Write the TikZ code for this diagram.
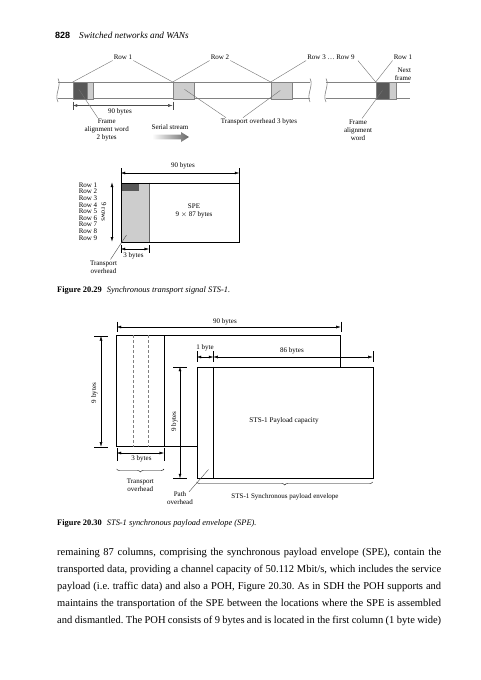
\documentclass[tikz,border=0pt]{standalone}
\usepackage{fontspec}
\setmainfont{Liberation Serif}
\newfontfamily\hdrsans{Liberation Sans}
\usetikzlibrary{arrows.meta,decorations.pathreplacing}
\definecolor{darkblk}{RGB}{88,88,88}
\definecolor{lightblk}{RGB}{205,205,205}
\definecolor{stripcol}{RGB}{130,130,130}
\frenchspacing
\begin{document}
\begin{tikzpicture}[x=1pt,y=-1pt,
  lbl/.style={font=\fontsize{7}{8}\selectfont, inner sep=0pt, align=center},
  ptr/.style={draw=black!55, line width=0.4pt},
  strip/.style={draw=stripcol, line width=0.6pt},
  blk/.style={draw=stripcol, line width=0.3pt, inner sep=0pt, anchor=north west, minimum height=16.5pt},
  dim/.style={{Latex[length=4.5pt,width=2.8pt]}-{Latex[length=4.5pt,width=2.8pt]}, line width=0.4pt},
  tickln/.style={line width=0.4pt},
  brc/.style={decorate, decoration={brace, mirror, amplitude=3pt}, line width=0.4pt},
  body/.style={font=\fontsize{10.5}{12}\selectfont, inner sep=0pt, anchor=base west},
  capt/.style={font=\fontsize{8.4}{10}\selectfont, inner sep=0pt, anchor=west}
]
\useasboundingbox (0,0) rectangle (481,680);
\fill[white] (0,0) rectangle (481,680);

% ---------- header ----------
\node[inner sep=0pt, anchor=west, font=\hdrsans\bfseries\fontsize{9}{10}\selectfont] (pgno) at (55,35) {828};
\node[inner sep=0pt, anchor=west, font=\itshape\fontsize{9.2}{11}\selectfont] (runhead) at (79,35) {Switched networks and WANs};

% ---------- Figure 20.29 top: serial stream ----------
\draw[strip] (58,82) -- (310,82);
\draw[strip] (58,98.5) -- (310,98.5);
\draw[strip] (58,78.5) .. controls (62,86) and (54,94) .. (58,102);
\draw[strip] (310,78.5) .. controls (314,86) and (306,94) .. (310,102);
\draw[strip] (326,82) -- (410,82);
\draw[strip] (326,98.5) -- (410,98.5);
\draw[strip] (326,78.5) .. controls (330,86) and (322,94) .. (326,102);

\node[blk, fill=darkblk, minimum width=14pt] (d1) at (72.7,82) {};
\node[blk, fill=lightblk, minimum width=5.8pt] (l1) at (86.7,82) {};
\node[blk, fill=lightblk, minimum width=21.3pt] (l2) at (172.7,82) {};
\node[blk, fill=lightblk, minimum width=21pt] (l3) at (270.7,82) {};
\node[blk, fill=darkblk, minimum width=13.3pt] (d4) at (375.7,82) {};
\node[blk, fill=lightblk, minimum width=6.7pt] (l4) at (389,82) {};

\node[lbl] (r1) at (123,57) {Row 1};
\node[lbl] (r2) at (220,57) {Row 2};
\node[lbl] (r3) at (331,57) {Row 3 \dots\ Row 9};
\node[lbl] (r4) at (403,57) {Row 1};
\node[lbl, align=right] (nf) at (403,74) {Next\\frame};

\draw[ptr] ([xshift=-1pt,yshift=-1pt]r1.south west) -- (d1.north west);
\draw[ptr] ([xshift=1pt,yshift=-1pt]r1.south east) -- (l2.north west);
\draw[ptr] ([xshift=-1pt,yshift=-1pt]r2.south west) -- (l2.north west);
\draw[ptr] ([xshift=1pt,yshift=-1pt]r2.south east) -- (l3.north west);
\draw[ptr] ([xshift=-1pt,yshift=-1pt]r3.south west) -- (l3.north west);
\draw[ptr] ([xshift=3pt,yshift=-1pt]r3.south east) -- (d4.north west);
\draw[ptr] ([xshift=-1pt,yshift=-1pt]r4.south west) -- (d4.north west);

% 90 bytes dimension
\coordinate (t90a) at (72.7,105.5);
\coordinate (t90b) at (172.7,105.5);
\draw[tickln, black!70] (72.7,101.5) -- (72.7,109.5);
\draw[tickln, black!70] (172.7,101.5) -- (172.7,109.5);
\draw[dim, black!70] (t90a) -- (t90b);
\node[lbl] (t90) at (120,112) {90 bytes};

\node[lbl] (fa1) at (106.7,130) {Frame\\alignment word\\2 bytes};
\draw[ptr] ([xshift=-1pt,yshift=1pt]d1.center) -- ([xshift=-9pt,yshift=1pt]fa1.north);

\node[lbl] (ss) at (170,127.5) {Serial stream};
\shade[left color=white, right color=black!60]
  (152,134.6) -- (181,134.6) -- (181,132) -- (189,137) -- (181,142) -- (181,139.4) -- (152,139.4) -- cycle;

\node[lbl] (toh) at (259,122) {Transport overhead 3 bytes};
\draw[ptr] ([xshift=1pt,yshift=1pt]l2.center) -- ([xshift=-33pt,yshift=1pt]toh.north);
\draw[ptr] ([xshift=-1pt]l3.center) -- ([xshift=-16pt,yshift=1pt]toh.north);

\node[lbl] (fa2) at (358,130) {Frame\\alignment\\word};
\draw[ptr] (d4.center) -- ([xshift=4pt,yshift=1pt]fa2.north);

% ---------- Figure 20.29 frame ----------
\fill[lightblk] (120.7,182.5) rectangle (149,241.5);
\fill[darkblk] (120.7,182.5) rectangle (139.3,190.7);
\draw[line width=0.4pt, black!60] (149,182.5) -- (149,241.5);
\node[draw=black, line width=0.5pt, inner sep=0pt, anchor=north west, minimum width=118.6pt, minimum height=59pt] (frame) at (120.7,182.5) {};
\node[lbl] (spe) at (194,211) {SPE\\9 $\times$ 87 bytes};

\draw[tickln] (120.7,168) -- (120.7,182.5);
\draw[tickln] (239.3,168) -- (239.3,182.5);
\draw[dim] (120.7,173) -- (239.3,173);
\node[lbl] (f90) at (183,166) {90 bytes};

\draw[dim] (112,182.5) -- (112,241.5);
\node[lbl, rotate=-90] (nrows) at (104,212) {9 rows};
\foreach \i in {1,...,9} {
  \node[lbl] (row\i) at (88,{185+6.6*(\i-1)}) {Row \i};
}
\draw[tickln] (120.7,245) -- (120.7,253);
\draw[tickln] (149,245) -- (149,253);
\draw[dim] (120.7,249) -- (149,249);
\node[lbl] (f3b) at (133.5,256) {3 bytes};
\node[lbl] (ftoh) at (103.5,267) {Transport\\overhead};
\draw[ptr, black!70] (126.5,235) -- ([xshift=7pt,yshift=1pt]ftoh.north);

\node[capt] (cap29) at (57,291) {\textbf{Figure 20.29}\hspace{0.6em}\textit{Synchronous transport signal STS-1.}};

% ---------- Figure 20.30 ----------
\draw[line width=0.5pt] (116.7,335) rectangle (340.7,446.7);
\draw[line width=0.5pt] (164,335) -- (164,446.7);
\draw[line width=0.4pt, black!50, dashed, dash pattern=on 3pt off 2pt] (133.3,335) -- (133.3,446.7);
\draw[line width=0.4pt, black!50, dashed, dash pattern=on 3pt off 2pt] (148.3,335) -- (148.3,446.7);

\node[draw=black, fill=white, line width=0.9pt, inner sep=0pt, anchor=north west, minimum width=176pt, minimum height=111.6pt] (front) at (196.7,366.7) {};
\draw[line width=0.9pt] (213.3,366.7) -- (213.3,478.3);
\node[lbl, font=\fontsize{7.2}{8}\selectfont] (pcap) at (284,421) {STS-1 Payload capacity};

% 90 bytes
\draw[tickln] (116.7,321.5) -- (116.7,332);
\draw[tickln] (340.7,321.5) -- (340.7,332);
\draw[dim] (116.7,327) -- (340.7,327);
\node[lbl] (s90) at (225,322) {90 bytes};
% 1 byte / 86 bytes
\draw[tickln] (196.7,351) -- (196.7,362);
\draw[tickln] (213.3,351) -- (213.3,362);
\draw[tickln] (372.7,351) -- (372.7,362);
\draw[dim] (196.7,357) -- (213.3,357);
\draw[dim] (213.3,357) -- (372.7,357);
\node[lbl] (s1b) at (205,348) {1 byte};
\node[lbl] (s86) at (292,351) {86 bytes};
% 9 bytes left
\draw[tickln] (94,336) -- (108,336);
\draw[tickln] (94,446.7) -- (108,446.7);
\draw[dim] (101,336) -- (101,446.7);
\node[lbl, rotate=90] (s9a) at (94.5,393) {9 bytes};
% 9 bytes middle
\draw[tickln] (173,366.7) -- (187,366.7);
\draw[tickln] (173,478.3) -- (187,478.3);
\draw[dim] (180,366.7) -- (180,478.3);
\node[lbl, rotate=90] (s9b) at (174.5,421.5) {9 bytes};
% 3 bytes
\draw[tickln] (116.7,448) -- (116.7,461);
\draw[tickln] (164,448) -- (164,461);
\draw[dim] (116.7,453) -- (164,453);
\node[lbl] (s3b) at (141.5,459) {3 bytes};
% braces
\draw[brc] (116.7,469) -- (164,469);
\node[lbl] (stoh) at (140.3,485) {Transport\\overhead};
\draw[brc] (196.7,482) -- (372.7,482);
\node[lbl] (sspe) at (285,496.5) {STS-1 Synchronous payload envelope};
\node[lbl] (spoh) at (180,498.5) {Path\\overhead};
\draw[ptr, black!70] (208.5,469.5) -- ([xshift=9pt]spoh.north);

\node[capt] (cap30) at (57,524) {\textbf{Figure 20.30}\hspace{0.6em}\textit{STS-1 synchronous payload envelope (SPE).}};

% ---------- body text ----------
\node[body] (ln1) at (57,555.5) {\makebox[384pt][s]{remaining 87 columns, comprising the synchronous payload envelope (SPE), contain the}};
\node[body] (ln2) at (57,572.5) {\makebox[384pt][s]{transported data, providing a channel capacity of 50.112 Mbit/s, which includes the service}};
\node[body] (ln3) at (57,589.5) {\makebox[384pt][s]{payload (i.e.\ traffic data) and also a POH, Figure 20.30. As in SDH the POH supports and}};
\node[body] (ln4) at (57,606.5) {\makebox[384pt][s]{maintains the transportation of the SPE between the locations where the SPE is assembled}};
\node[body] (ln5) at (57,623.5) {\makebox[384pt][s]{and dismantled. The POH consists of 9 bytes and is located in the first column (1 byte wide)}};
\end{tikzpicture}
\end{document}
